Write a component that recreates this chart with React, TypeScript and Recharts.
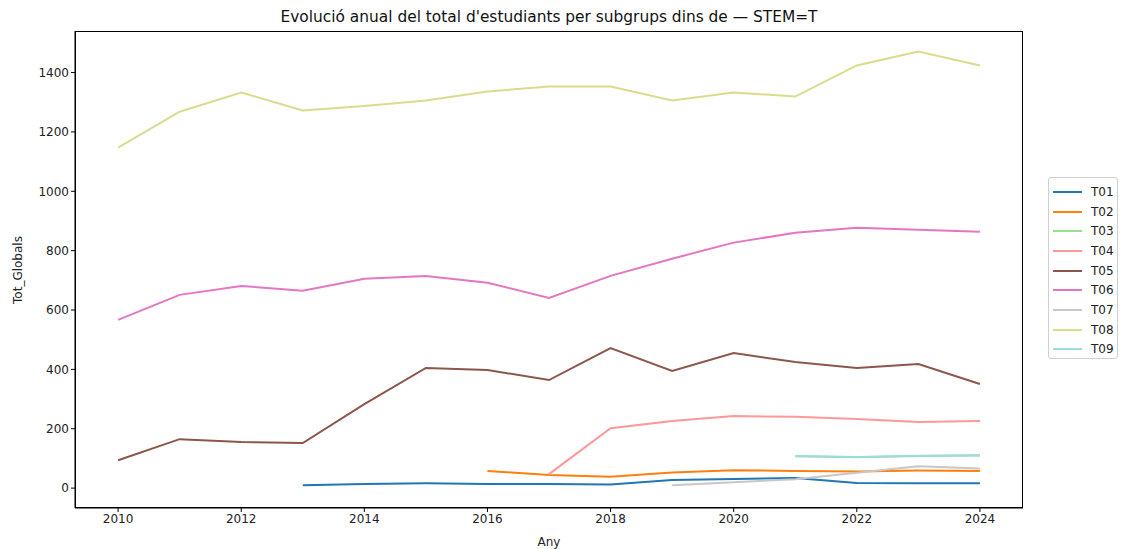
import { LineChart, Line, XAxis, YAxis } from "recharts";

const years = [2010, 2011, 2012, 2013, 2014, 2015, 2016, 2017, 2018, 2019, 2020, 2021, 2022, 2023, 2024];

type Val = number | null;

const t01: Val[] = [null, null, null, 10, 14, 16, 14, 14, 12, 27, 31, 34, 17, 16, 16];
const t02: Val[] = [null, null, null, null, null, null, 58, 44, 38, 53, 60, 58, 56, 59, 58];
const t03: Val[] = [null, null, null, null, null, null, null, null, null, null, null, 107, 104, 108, 110];
const t04: Val[] = [null, null, null, null, null, null, null, 47, 202, 226, 243, 240, 233, 223, 226];
const t05: Val[] = [94, 165, 155, 152, 283, 405, 398, 364, 472, 395, 455, 425, 405, 418, 351];
const t06: Val[] = [567, 651, 681, 665, 705, 715, 692, 641, 715, 773, 827, 860, 877, 870, 864];
const t07: Val[] = [null, null, null, null, null, null, null, null, null, 10, 20, 30, 52, 74, 66];
const t08: Val[] = [1147, 1268, 1333, 1272, 1287, 1306, 1336, 1353, 1353, 1306, 1333, 1319, 1424, 1471, 1424];
const t09: Val[] = [null, null, null, null, null, null, null, null, null, null, null, 108, 105, 109, 111];

const seriesNames = ["T01", "T02", "T03", "T04", "T05", "T06", "T07", "T08", "T09"];
const seriesValues = [t01, t02, t03, t04, t05, t06, t07, t08, t09];
const seriesColors = ["#1f77b4", "#ff7f0e", "#98df8a", "#ff9896", "#8c564b", "#e377c2", "#c7c7c7", "#dbdb8d", "#9edae5"];

const xTicks = [2010, 2012, 2014, 2016, 2018, 2020, 2022, 2024];
const yTicks = [0, 200, 400, 600, 800, 1000, 1200, 1400];

const data = years.map((year, i) => {
  const row: Record<string, Val> = { year };
  seriesNames.forEach((name, s) => {
    row[name] = seriesValues[s][i];
  });
  return row;
});

const font = "'DejaVu Sans', sans-serif";
const tickStyle = { fill: "#222", fontSize: 12, fontFamily: font };

export default function App() {
  return (
    <div style={{ position: "relative", width: 1122, height: 549, background: "#fff", fontFamily: font }}>
      <style>{`body{margin:0}`}</style>
      <div
        style={{
          position: "absolute",
          top: 7,
          left: 75,
          width: 948,
          textAlign: "center",
          fontSize: 15.4,
          lineHeight: "20px",
          color: "#111",
        }}
      >
        Evolució anual del total d'estudiants per subgrups dins de — STEM=T
      </div>
      <div
        style={{
          position: "absolute",
          left: 18,
          top: 270,
          transform: "translate(-50%, -50%) rotate(-90deg)",
          fontSize: 12,
          color: "#222",
          whiteSpace: "nowrap",
        }}
      >
        Tot_Globals
      </div>
      <LineChart
        width={1122}
        height={549}
        data={data}
        margin={{ top: 31, right: 99, left: 15, bottom: 11 }}
      >
        <XAxis
          dataKey="year"
          type="number"
          domain={[2009.3, 2024.7]}
          ticks={xTicks}
          allowDataOverflow
          stroke="#000"
          tickSize={4}
          tick={tickStyle}
          height={30}
          label={{ value: "Any", position: "insideBottom", offset: -8, fill: "#222", fontSize: 12, fontFamily: font }}
        />
        <YAxis
          type="number"
          domain={[-67, 1540]}
          ticks={yTicks}
          allowDataOverflow
          stroke="#000"
          tickSize={4}
          tick={tickStyle}
          width={60}
        />
        {seriesNames.map((name, s) => (
          <Line
            key={name}
            dataKey={name}
            stroke={seriesColors[s]}
            strokeWidth={2}
            dot={false}
            activeDot={false}
            isAnimationActive={false}
          />
        ))}
      </LineChart>
      <div
        style={{
          position: "absolute",
          left: 75,
          top: 31,
          width: 948,
          height: 477,
          boxSizing: "border-box",
          border: "1px solid #000",
          pointerEvents: "none",
        }}
      />
      <div
        style={{
          position: "absolute",
          left: 1048,
          top: 177,
          width: 70,
          height: 182,
          boxSizing: "border-box",
          border: "1px solid #d0d0d0",
          borderRadius: 3,
          padding: "4px 0 0 4px",
          fontSize: 12,
          color: "#222",
        }}
      >
        {seriesNames.map((name, s) => (
          <div key={name} style={{ display: "flex", alignItems: "center", height: 19.7 }}>
            <span style={{ display: "inline-block", width: 29, height: 2, background: seriesColors[s], marginRight: 9 }} />
            <span>{name}</span>
          </div>
        ))}
      </div>
    </div>
  );
}
